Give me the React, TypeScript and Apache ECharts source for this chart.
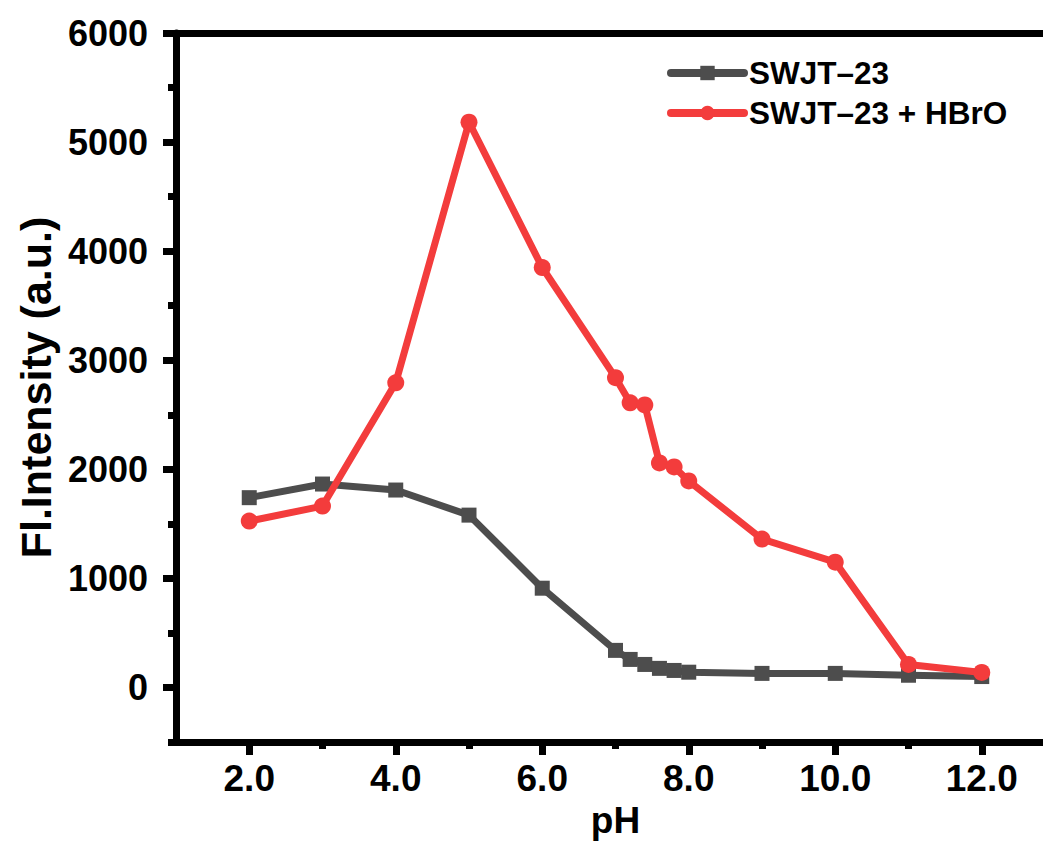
import React, { useEffect, useRef } from "react";
import * as echarts from "echarts";

const pH = [2, 3, 4, 5, 6, 7, 7.2, 7.4, 7.6, 7.8, 8, 9, 10, 11, 12];
const swjt23 = [1740, 1865, 1810, 1580, 910, 340, 257, 211, 175, 156, 140, 129, 129, 112, 100];
const swjt23HBrO = [1525, 1663, 2793, 5182, 3850, 2840, 2610, 2590, 2058, 2022, 1893, 1360, 1149, 211, 138];
const xMajor = [2, 4, 6, 8, 10, 12];
const xMinor = [3, 5, 7, 9, 11];
const yMajor = [0, 1000, 2000, 3000, 4000, 5000, 6000];
const yMinor = [-500, 500, 1500, 2500, 3500, 4500, 5500];
const seriesNames = ["SWJT\u201323", "SWJT\u201323 + HBrO"];

const FONT = "'Liberation Sans', Arial, Helvetica, sans-serif";

export default function App() {
  const ref = useRef<HTMLDivElement>(null);
  useEffect(() => {
    if (!ref.current) return;
    const chart = echarts.init(ref.current, null, { renderer: "svg" });
    const axisLineStyle = { color: "#000", width: 7 };
    const option: any = {
      animation: false,
      backgroundColor: "#fff",
      grid: { left: 176, top: 33, bottom: 104, right: -12, outerBoundsMode: "none", containLabel: false },
      legend: {
        orient: "vertical",
        left: 667,
        top: 57,
        padding: 0,
        itemGap: 8,
        itemWidth: 73,
        itemHeight: 18,
        data: seriesNames,
        lineStyle: { width: 8, cap: "round" },
        textStyle: { fontFamily: FONT, fontWeight: "bold", fontSize: 31.5, color: "#000" },
      },
      xAxis: [
        {
          type: "value",
          position: "bottom",
          min: 1,
          max: 13,
          name: "pH",
          nameLocation: "middle",
          nameGap: 55,
          nameTextStyle: { fontFamily: FONT, fontWeight: "bold", fontSize: 37, color: "#000" },
          axisLine: { show: true, onZero: false, lineStyle: axisLineStyle },
          axisTick: { show: true, customValues: xMajor, length: 13, lineStyle: { color: "#000", width: 7 } },
          axisLabel: {
            customValues: xMajor,
            formatter: (v: number) => v.toFixed(1),
            fontFamily: FONT,
            fontWeight: "bold",
            fontSize: 37,
            color: "#000",
            margin: 18,
          },
          splitLine: { show: false },
        },
        {
          type: "value",
          position: "bottom",
          min: 1,
          max: 13,
          axisLine: { show: false, onZero: false },
          axisTick: { show: true, customValues: xMinor, length: 7, lineStyle: { color: "#000", width: 7 } },
          axisLabel: { show: false },
          splitLine: { show: false },
        },
        {
          type: "value",
          position: "top",
          min: 1,
          max: 13,
          axisLine: { show: true, onZero: false, lineStyle: axisLineStyle },
          axisTick: { show: false },
          axisLabel: { show: false },
          splitLine: { show: false },
        },
      ],
      yAxis: [
        {
          type: "value",
          position: "left",
          min: -500,
          max: 6000,
          name: "Fl.Intensity (a.u.)",
          nameLocation: "middle",
          nameGap: 118,
          nameTextStyle: { fontFamily: FONT, fontWeight: "bold", fontSize: 43, color: "#000" },
          axisLine: { show: true, onZero: false, lineStyle: axisLineStyle },
          axisTick: { show: true, customValues: yMajor, length: 13, lineStyle: { color: "#000", width: 7 } },
          axisLabel: {
            customValues: yMajor,
            formatter: (v: number) => String(v),
            fontFamily: FONT,
            fontWeight: "bold",
            fontSize: 36,
            color: "#000",
            margin: 28,
          },
          splitLine: { show: false },
        },
        {
          type: "value",
          position: "left",
          min: -500,
          max: 6000,
          axisLine: { show: false, onZero: false },
          axisTick: { show: true, customValues: yMinor, length: 8, lineStyle: { color: "#000", width: 7 } },
          axisLabel: { show: false },
          splitLine: { show: false },
        },
      ],
      series: [
        {
          name: seriesNames[0],
          type: "line",
          xAxisIndex: 0,
          yAxisIndex: 0,
          data: pH.map((x, i) => [x, swjt23[i]]),
          symbol: "rect",
          symbolSize: 15,
          color: "#4d4d4d",
          lineStyle: { width: 7, color: "#4d4d4d", cap: "round", join: "round" },
          itemStyle: { color: "#4d4d4d" },
          z: 2,
        },
        {
          name: seriesNames[1],
          type: "line",
          xAxisIndex: 0,
          yAxisIndex: 0,
          data: pH.map((x, i) => [x, swjt23HBrO[i]]),
          symbol: "circle",
          symbolSize: 17,
          color: "#f33c3c",
          lineStyle: { width: 7, color: "#f33c3c", cap: "round", join: "round" },
          itemStyle: { color: "#f33c3c" },
          z: 3,
        },
      ],
    };
    chart.setOption(option);
    return () => chart.dispose();
  }, []);
  return (
    <div
      ref={ref}
      style={{ position: "absolute", left: 0, top: 0, width: 1043, height: 846, overflow: "hidden" }}
    />
  );
}
